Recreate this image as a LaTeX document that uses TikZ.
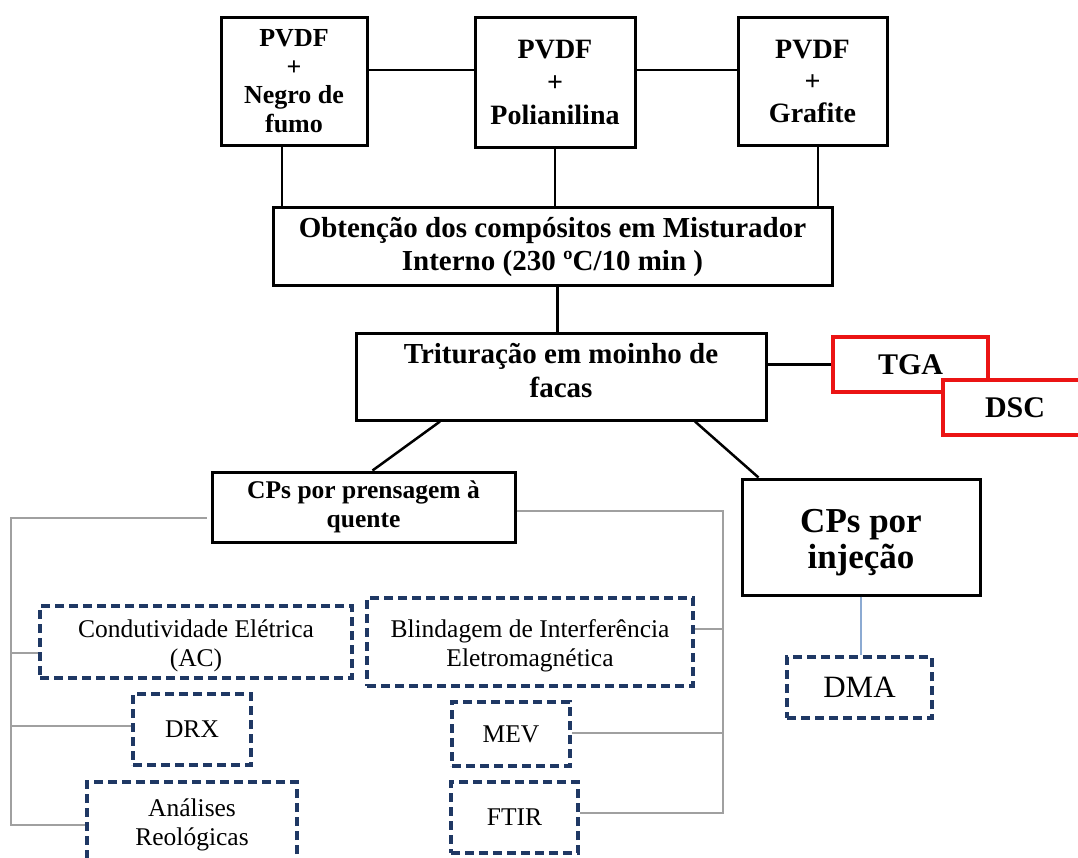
\documentclass[tikz,border=0pt]{standalone}
\usepackage{fontspec}
\setmainfont{Liberation Serif}
\definecolor{navy}{RGB}{31,56,100}
\definecolor{redbox}{RGB}{235,20,20}
\definecolor{bus}{RGB}{160,160,160}
\definecolor{dmaline}{RGB}{140,170,210}
\begin{document}
\begin{tikzpicture}[x=1pt,y=-1pt,
  blk/.style={draw=black, line width=3pt, fill=white, align=center, inner sep=0pt},
  topbox/.style={blk, font=\bfseries\fontsize{28}{32}\selectfont},
  procbox/.style={blk, font=\bfseries\fontsize{29}{33}\selectfont},
  txt/.style={align=center, inner sep=0pt},
  redb/.style={draw=redbox, line width=4pt, fill=white, align=center, inner sep=0pt, font=\bfseries\fontsize{30}{34}\selectfont},
  anal/.style={draw=navy, line width=3.5pt, dash pattern=on 9pt off 5pt, fill=white, align=center, inner sep=0pt, font=\fontsize{25.5}{29}\selectfont},
  conn/.style={draw=black, line width=2.5pt},
  gbus/.style={draw=bus, line width=1.5pt}
]
\useasboundingbox (0,0) rectangle (1078,857);

% top boxes
\node[topbox, font=\bfseries\fontsize{26}{28.5}\selectfont, minimum width=146pt, minimum height=128pt] (npf) at (294,81) {PVDF\\+\\Negro de\\fumo};
\node[topbox, font=\bfseries\fontsize{28}{33}\selectfont, minimum width=160pt, minimum height=130pt] (pan) at (555,82) {PVDF\\+\\Polianilina};
\node[topbox, minimum width=149pt, minimum height=128pt] (gra) at (812.5,81) {PVDF\\+\\Grafite};

\node[procbox, minimum width=559pt, minimum height=78pt] (obt) at (552.5,246.5) {Obtenção dos compósitos em Misturador\\Interno (230 ºC/10 min )};
\node[blk, minimum width=410pt, minimum height=87pt] (trit) at (561,376.5) {};
\node[txt, font=\bfseries\fontsize{29}{34}\selectfont] (trit-t) at ([yshift=6pt]trit.center) {Trituração em moinho de\\facas};

\node[redb, minimum width=155pt, minimum height=55pt] (tga) at (910.5,364.5) {TGA};
\node[redb, minimum width=139pt, minimum height=55pt, text width=139pt, align=left] (dsc) at (1012.5,407.5) {\hspace*{42pt}DSC};

\node[blk, font=\bfseries\fontsize{25.5}{29}\selectfont, minimum width=303pt, minimum height=70pt] (prens) at (363.5,507) {CPs por prensagem à\\quente};
\node[blk, minimum width=238pt, minimum height=116pt] (inj) at (861,537) {};
\node[txt, font=\bfseries\fontsize{35}{36}\selectfont] (inj-t) at ([yshift=-6pt]inj.center) {CPs por\\injeção};

\node[anal, font=\fontsize{31}{34}\selectfont, minimum width=145pt, minimum height=61pt] (dma) at (859.5,687.5) {DMA};

\node[anal, minimum width=312pt, minimum height=72pt] (cond) at (196,642) {};
\node[txt, font=\fontsize{25.5}{29}\selectfont] (cond-t) at ([yshift=-4pt]cond.center) {Condutividade Elétrica\\(AC)};
\node[anal, minimum width=118pt, minimum height=71pt] (drx) at (192,729.5) {DRX};
\node[anal, minimum width=210pt, minimum height=86pt] (reo) at (192,825) {Análises\\Reológicas};

\node[anal, minimum width=326pt, minimum height=88pt] (blind) at (530,642) {};
\node[txt, font=\fontsize{25.5}{29}\selectfont] (blind-t) at ([yshift=-4pt]blind.center) {Blindagem de Interferência\\Eletromagnética};
\node[anal, minimum width=118pt, minimum height=64pt] (mev) at (511,734) {MEV};
\node[anal, minimum width=127pt, minimum height=71pt] (ftir) at (514.5,817.5) {FTIR};

% connectors top
\draw[conn] ([yshift=11pt]npf.east) -- ([yshift=11pt]npf.east -| pan.west);
\draw[conn] ([yshift=11pt]npf.east -| pan.east) -- ([yshift=11pt]npf.east -| gra.west);
\draw[conn] ([xshift=-12pt]npf.south) -- ([xshift=-12pt]npf.south |- obt.north);
\draw[conn] (pan.south) -- (pan.south |- obt.north);
\draw[conn] ([xshift=5.5pt]gra.south) -- ([xshift=5.5pt]gra.south |- obt.north);
\draw[conn] ([xshift=5pt]obt.south) -- ([xshift=5pt]obt.south |- trit.north);
\draw[conn] (trit.east |- tga.west) -- (tga.west);
\draw[conn] ([xshift=-121pt]trit.south) -- ([xshift=9pt]prens.north);
\draw[conn] ([xshift=134pt]trit.south) -- ([xshift=18pt]inj.north west);

% left bus
\coordinate (lb) at (11,518);
\draw[gbus] ([yshift=-11pt,xshift=-4pt]prens.west) -- (lb) -- (lb |- reo.west) -- (reo.west);
\draw[gbus] ([yshift=-11pt]lb |- cond.west) -- ([yshift=-11pt]cond.west);
\draw[gbus] ([yshift=3.5pt]lb |- drx.west) -- ([yshift=3.5pt]drx.west);

% right bus
\coordinate (rb) at (723,511);
\draw[gbus] ([yshift=-4pt]prens.east) -- (rb) -- ([yshift=4.5pt]rb |- ftir.east) -- ([yshift=4.5pt]ftir.east);
\draw[gbus] ([yshift=13pt]rb |- blind.east) -- ([yshift=13pt]blind.east);
\draw[gbus] ([yshift=1pt]rb |- mev.east) -- ([yshift=1pt]mev.east);

% injection to DMA
\draw[draw=dmaline, line width=1.5pt] (inj.south) -- (inj.south |- dma.north);
\end{tikzpicture}
\end{document}
